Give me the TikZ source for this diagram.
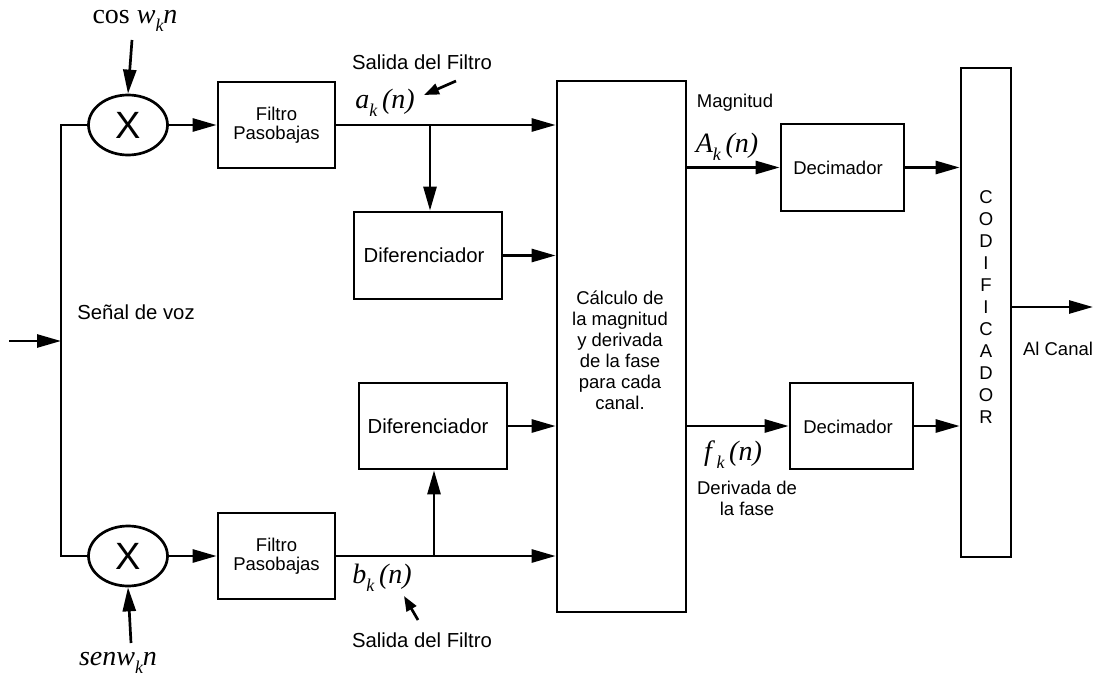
\documentclass[tikz,border=0pt]{standalone}
\usepackage{fontspec}
\setmainfont{Liberation Sans}
\newfontfamily\tms{Liberation Serif}
\usetikzlibrary{arrows.meta,shapes.geometric}
\newcommand{\msub}[1]{\raisebox{-0.28em}{\fontsize{18}{18}\selectfont\itshape #1}}
\newcommand{\mlab}{\tms\fontsize{28}{30}\selectfont}
\begin{document}
\begin{tikzpicture}[x=1pt,y=-1pt,line width=2.7pt,
  blk/.style={draw,rectangle,inner sep=0pt,align=center,font=\fontsize{18.5}{19.5}\selectfont},
  mult/.style={draw,ellipse,minimum width=79pt,minimum height=60pt,inner sep=0pt,font=\fontsize{38}{38}\selectfont},
  arr/.style={-{Triangle[length=24pt,width=13pt]}},
  sarr/.style={-{Triangle[length=15pt,width=11pt]}},
  txt/.style={inner sep=0pt,align=center,font=\fontsize{18.5}{21}\selectfont},
  btxt/.style={inner sep=0pt,align=center,font=\fontsize{20.3}{22}\selectfont},
  mtxt/.style={inner sep=0pt}]
\useasboundingbox (0,0) rectangle (1094,679);

% blocks
\node[mult] (m1) at (128,125) {X};
\node[mult] (m2) at (128,556) {X};
\node[blk,minimum width=117pt,minimum height=86pt] (f1) at (276.5,125) {Filtro\\Pasobajas};
\node[blk,minimum width=117pt,minimum height=86pt] (f2) at (276.5,556) {Filtro\\Pasobajas};
\node[blk,minimum width=148pt,minimum height=87pt] (d1) at (428,255.5) {};
\node[blk,minimum width=148pt,minimum height=86pt] (d2) at (433,426) {};
\node[btxt] (d1t) at (424,255) {Diferenciador};
\node[btxt] (d2t) at (428,426) {Diferenciador};
\node[blk,minimum width=129pt,minimum height=531pt] (calc) at (621.5,346.5) {};
\node[txt] (calct) at (620,350) {Cálculo de\\la magnitud\\y derivada\\de la fase\\para cada\\canal.};
\node[blk,minimum width=123pt,minimum height=87pt] (dec1) at (842.5,167.5) {};
\node[blk,minimum width=123pt,minimum height=86pt] (dec2) at (851.5,426) {};
\node[txt] (dec1t) at (838,168) {Decimador};
\node[txt] (dec2t) at (848,427) {Decimador};
\node[blk,minimum width=50pt,minimum height=489pt] (cod) at (986,312.5) {};
\node[inner sep=0pt,align=center,font=\fontsize{18.5}{22}\selectfont] (codt) at (986,307) {C\\O\\D\\I\\F\\I\\C\\A\\D\\O\\R};

% coordinates
\coordinate (in) at (9,341);
\coordinate (jl) at (61,341);
\coordinate (lt) at (61,125);
\coordinate (lb) at (61,556);
\coordinate (c1) at (132,40);
\coordinate (s1) at (131,643);
\coordinate (j1) at (430,125);
\coordinate (j2) at (434,556);
\coordinate (out) at (1093,307);

% connectors
\draw[arr] (in) -- (jl);
\draw (m1.west) -- (lt) -- (lb) -- (m2.west);
\draw[arr] (c1) -- (m1.north);
\draw[arr] (s1) -- (m2.south);
\draw[arr] (m1.east) -- (f1.west);
\draw[arr] (m2.east) -- (f2.west);
\draw[arr] (f1.east) -- (calc.west |- f1.east);
\draw[arr] (f2.east) -- (calc.west |- f2.east);
\draw[arr] (j1) -- (j1 |- d1.north);
\draw[arr] (j2) -- (j2 |- d2.south);
\draw[arr] (d1.east) -- (calc.west |- d1.east);
\draw[arr] (d2.east) -- (calc.west |- d2.east);
\draw[arr] (calc.east |- dec1.west) -- (dec1.west);
\draw[arr] (calc.east |- dec2.west) -- (dec2.west);
\draw[arr] (dec1.east) -- (cod.west |- dec1.east);
\draw[arr] (dec2.east) -- (cod.west |- dec2.east);
\draw[arr] (cod.east |- out) -- (out);

% labels
\node[mtxt] (lcos) at (135,21) {\mlab cos \textit{w}\msub{k}\textit{n}};
\node[mtxt] (lsen) at (118,663) {\mlab\itshape senw\msub{k}n};
\node[btxt] (voz) at (136,312) {Señal de voz};
\node[btxt] (sal1) at (422,62) {Salida del Filtro};
\node[btxt] (sal2) at (422,640) {Salida del Filtro};
\node[mtxt] (ak) at (385,103) {\mlab\itshape a\msub{k}\,(n)};
\node[mtxt] (bk) at (382,578) {\mlab\itshape b\msub{k}\,(n)};
\coordinate (a1s) at (456,81);
\coordinate (a1e) at (424,95);
\coordinate (b1s) at (418,620);
\coordinate (b1e) at (404,596);
\draw[sarr] (a1s) -- (a1e);
\draw[sarr] (b1s) -- (b1e);
\node[txt] (mag) at (735,103) {Magnitud};
\node[mtxt] (Ak) at (727,147) {\mlab\itshape A\msub{k}\,(n)};
\node[mtxt] (fk) at (733,455) {\mlab\itshape f\,\msub{k}\,(n)};
\node[txt] (der) at (747,498) {Derivada de\\la fase};
\node[txt] (can) at (1058,349) {Al Canal};
\end{tikzpicture}
\end{document}
